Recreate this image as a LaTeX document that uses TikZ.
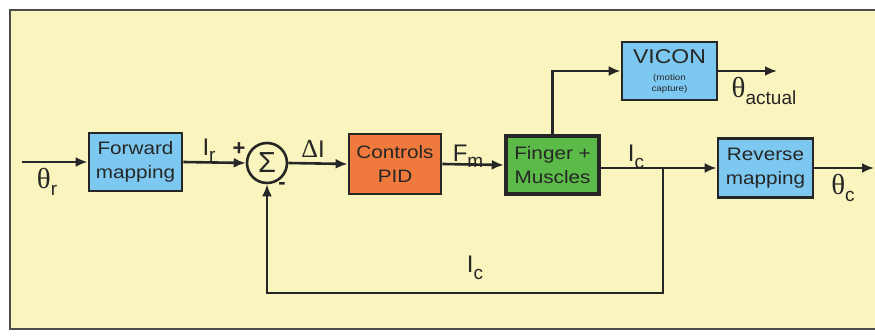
\documentclass[tikz,border=0pt]{standalone}
\usepackage{fontspec}
\setmainfont{Liberation Sans}
\newfontfamily\thfont{Liberation Serif}
\newfontfamily\boxfont[FakeStretch=1.15]{Liberation Sans}
\usetikzlibrary{arrows.meta}
\definecolor{bgyel}{HTML}{FAF5BE}
\definecolor{boxblue}{HTML}{7CC8F0}
\definecolor{boxorange}{HTML}{F07A3E}
\definecolor{boxgreen}{HTML}{5CBA48}
\definecolor{inkc}{HTML}{262626}
\newcommand{\thsym}{{\thfont\fontsize{29}{29}\selectfont θ}}
\newcommand{\mysubs}[1]{\raisebox{-0.5ex}{\fontsize{19}{19}\selectfont #1}}
\begin{document}
\begin{tikzpicture}[x=1pt,y=-1pt,
  blk/.style={draw=inkc, line width=2.8pt, minimum width=93pt, minimum height=58pt,
    align=center, inner sep=1pt, text=inkc, font=\boxfont\fontsize{18}{24}\selectfont},
  conn/.style={draw=inkc, line width=2.6pt, -{Latex[length=12pt,width=10pt]}},
  lbl/.style={inner sep=0pt, text=inkc, font=\fontsize{24}{24}\selectfont}]
\useasboundingbox (0,0) rectangle (875,336);
\fill[white] (0,0) rectangle (875,336);
\filldraw[fill=bgyel, draw=black!70, line width=2pt] (10,10) rectangle (886,329);

\node[blk, fill=boxblue] (fwd) at (135.5,162) {Forward\\mapping};
\node[circle, draw=inkc, line width=2.6pt, minimum size=40pt, inner sep=0pt,
  text=inkc, font=\fontsize{29}{29}\selectfont] (sum) at (267,163) {Σ};
\node[blk, fill=boxorange, minimum width=92pt, minimum height=60pt] (pid) at (395,164) {Controls\\PID};
\node[blk, fill=boxgreen, line width=4.5pt, minimum width=93pt, minimum height=58pt] (fin) at (552.5,165) {Finger +\\Muscles};
\node[blk, fill=boxblue, minimum width=95pt] (vic) at (669.5,71)
  {{\fontsize{20}{20}\selectfont VICON}\\[-7pt]{\fontsize{8.5}{8.5}\selectfont (motion}\\[-13pt]{\fontsize{8.5}{8.5}\selectfont capture)}};
\node[blk, fill=boxblue, minimum width=95pt, minimum height=59pt] (rev) at (765.5,168) {Reverse\\mapping};

\coordinate (in) at (22,162);
\coordinate (vout) at (777,71);
\coordinate (rout) at (874,168);
\coordinate (br) at (663,168);
\coordinate (bot) at (663,293);

\draw[conn] (in) -- (fwd.west);
\draw[conn] (fwd.east) -- (sum.west);
\draw[conn] (sum.east) -- (pid.west);
\draw[conn] (pid.east) -- (fin.west);
\draw[conn] (fin.east |- rev.west) -- (rev.west);
\draw[conn] (fin.north) |- (vic.west);
\draw[conn] (vic.east) -- (vout);
\draw[conn] (rev.east) -- (rout);
\draw[conn] (br) -- (bot) -| (sum.south);

\node[lbl] (thr) at (47,182) {\thsym\mysubs{r}};
\node[lbl] (ir) at (209,150) {I\mysubs{r}};
\node[lbl, font=\bfseries\fontsize{22}{22}\selectfont] (plus) at (239,149) {+};
\node[lbl, font=\bfseries\fontsize{22}{22}\selectfont] (minus) at (282,186) {-};
\node[lbl] (di) at (313,149) {{\thfont\fontsize{26}{26}\selectfont Δ}I};
\node[lbl] (fm) at (468,156) {F\mysubs{m}};
\node[lbl] (ic) at (636,157) {I\mysubs{c}};
\node[lbl] (tha) at (764,91) {\thsym\mysubs{actual}};
\node[lbl] (thc) at (843,188) {\thsym\mysubs{c}};
\node[lbl] (ic2) at (475,268) {I\mysubs{c}};
\end{tikzpicture}
\end{document}
